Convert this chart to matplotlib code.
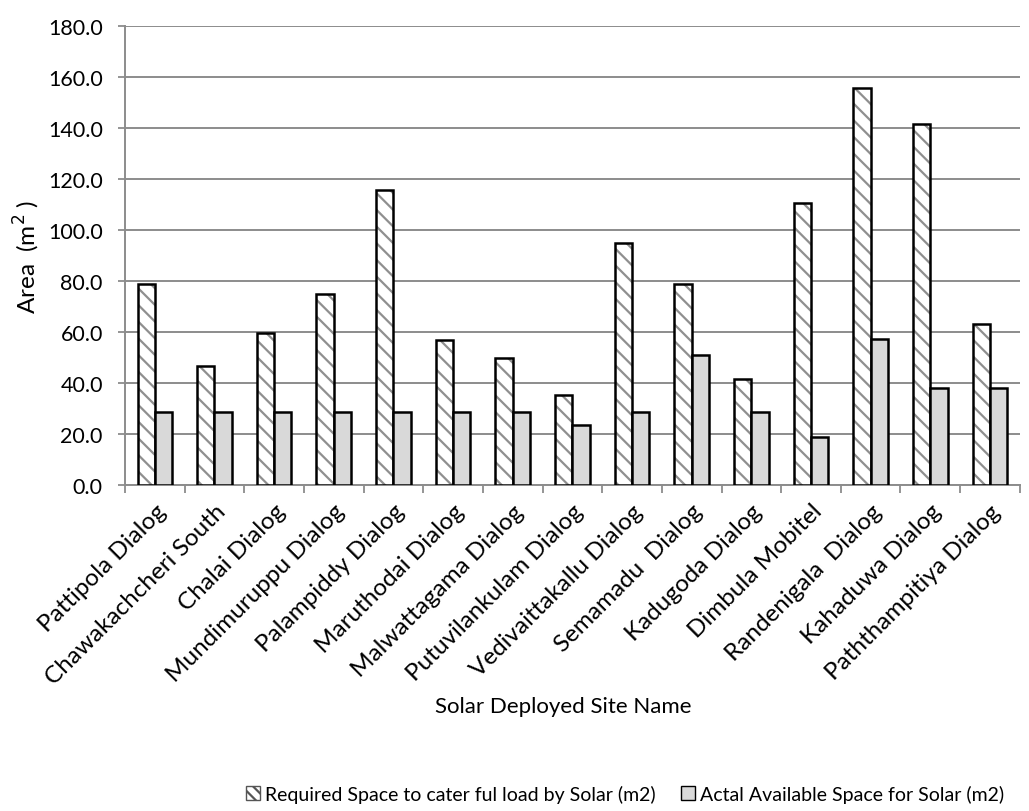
import numpy as np
import matplotlib.pyplot as plt
import matplotlib.transforms as mtransforms
from matplotlib.patches import Patch

plt.rcParams['font.family'] = ['Lato', 'DejaVu Sans']
plt.rcParams['hatch.linewidth'] = 1.6

sites = ["Pattipola Dialog", "Chawakachcheri South", "Chalai Dialog",
         "Mundimuruppu Dialog", "Palampiddy Dialog", "Maruthodai Dialog",
         "Malwattagama Dialog", "Putuvilankulam Dialog", "Vedivaittakallu Dialog",
         "Semamadu  Dialog", "Kadugoda Dialog", "Dimbula Mobitel",
         "Randenigala  Dialog", "Kahaduwa Dialog", "Paththampitiya Dialog"]
required = [78.9, 46.7, 59.5, 74.9, 115.8, 56.9, 49.8, 35.3, 95.0,
            78.9, 41.4, 110.7, 155.6, 141.6, 63.2]
available = [28.5, 28.5, 28.5, 28.5, 28.5, 28.5, 28.5, 23.6, 28.5,
             51.0, 28.5, 18.9, 57.4, 38.1, 38.1]

fig = plt.figure(figsize=(10.29, 8.12), dpi=100)
ax = fig.add_axes([0.1215, 0.4015, 0.8695, 0.5652])

x = np.arange(len(sites))
w = 0.29
hatch = '\\\\'

# hatched bars: grey hatch lines, then black outline on top
ax.bar(x - w / 2, required, w, color='white', edgecolor='#8f8f8f',
       hatch=hatch, linewidth=0, zorder=3)
ax.bar(x - w / 2, required, w, color='none', edgecolor='black',
       linewidth=1.8, zorder=4)
ax.bar(x + w / 2, available, w, color='#d9d9d9', edgecolor='black',
       linewidth=1.8, zorder=4)

ax.set_xlim(-0.5, len(sites) - 0.5)
ax.set_ylim(0, 180)
yt = np.arange(0, 181, 20)
ax.set_yticks(yt)
ax.set_yticklabels([f"{v:.1f}" for v in yt], fontsize=15.5)
ax.yaxis.grid(True, color='#8c8c8c', linewidth=1.4, zorder=0)
ax.set_axisbelow(True)

ax.set_xticks(x)
ax.set_xticklabels(sites, rotation=45, ha='right', rotation_mode='anchor',
                   fontsize=17.5)
shift = mtransforms.ScaledTranslation(-5 / 100, 0, fig.dpi_scale_trans)
for lbl in ax.get_xticklabels():
    lbl.set_transform(lbl.get_transform() + shift)
ax.set_xticks(np.arange(-0.5, len(sites)), minor=True)
ax.tick_params(axis='x', which='major', length=0, pad=11)
ax.tick_params(axis='x', which='minor', length=5.5, color='#8c8c8c', width=1.3)
ax.tick_params(axis='y', length=5, color='#8c8c8c', width=1.3, pad=11)

for s in ['top', 'right']:
    ax.spines[s].set_visible(False)
for s in ['left', 'bottom']:
    ax.spines[s].set_color('#8c8c8c')
    ax.spines[s].set_linewidth(1.4)

ax.set_ylabel("Area  (m$^2$ )", fontsize=17.5)
ax.yaxis.set_label_coords(-0.093, 0.5)
fig.text(563 / 1029, 1 - 707 / 812, "Solar Deployed Site Name", ha='center',
         va='center', fontsize=16)

handles = [Patch(facecolor='white', edgecolor='#555555', hatch='\\\\\\', linewidth=1),
           Patch(facecolor='#d9d9d9', edgecolor='black', linewidth=1)]
fig.legend(handles, ["Required Space to cater ful load by Solar (m2)",
                     "Actal Available Space for Solar (m2)"],
           loc='center', bbox_to_anchor=(625 / 1029, 1 - 795 / 812), ncol=2,
           frameon=False, fontsize=14, handlelength=0.75, handleheight=0.75,
           handletextpad=0.25, columnspacing=1.3)

plt.savefig("out.png", dpi=100)
